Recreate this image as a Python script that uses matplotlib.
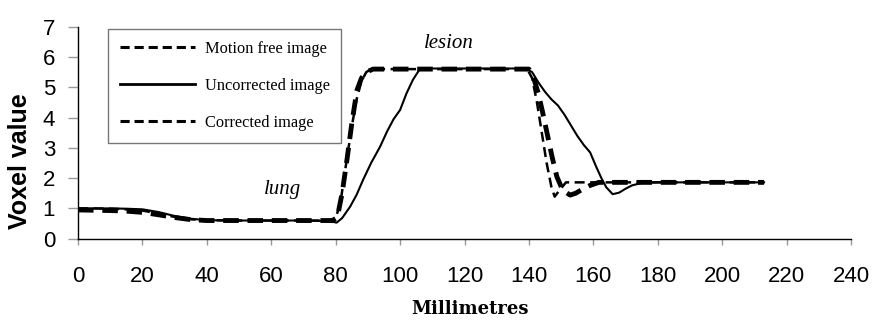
import matplotlib
matplotlib.use("Agg")
import matplotlib.pyplot as plt
from matplotlib.lines import Line2D

# Motion free image (thin dashed)
mf_x = [0, 5, 10, 15, 20, 25, 30, 35, 40, 50, 60, 70, 78, 80, 81.5, 83, 85, 86.5, 88, 89.5, 91, 100, 110, 120, 130, 139.5,
        141, 142.5, 144, 145.5, 147, 148, 149.5, 151.5, 154, 160, 170, 180, 190, 200, 213]
mf_y = [1.0, 1.0, 0.99, 0.97, 0.93, 0.83, 0.72, 0.64, 0.61, 0.6, 0.6, 0.6, 0.6, 0.68, 1.2, 2.3, 3.7, 4.6, 5.2, 5.5, 5.6, 5.6, 5.6, 5.6, 5.6, 5.6,
        5.3, 4.5, 3.5, 2.5, 1.7, 1.39, 1.6, 1.86, 1.86, 1.86, 1.86, 1.86, 1.86, 1.86, 1.86]

# Uncorrected image (solid)
un_x = [0, 10, 15, 20, 25, 30, 35, 40, 50, 60, 70, 78, 80.3, 82, 84.5, 86.5, 88.5, 91, 93.8, 96, 98, 100, 102, 104, 106, 108,
        120, 130, 139, 141, 143, 145, 147, 149, 151, 153, 155, 157, 159, 161, 162.5, 164, 166, 168, 170, 172, 175, 180, 190, 200, 213]
un_y = [1.0, 1.0, 0.99, 0.97, 0.88, 0.75, 0.66, 0.61, 0.6, 0.6, 0.6, 0.58, 0.53, 0.68, 1.06, 1.45, 1.94, 2.5, 3.04, 3.55, 3.95, 4.25, 4.8, 5.25, 5.58, 5.62,
        5.62, 5.62, 5.62, 5.5, 5.15, 4.85, 4.6, 4.4, 4.1, 3.75, 3.4, 3.1, 2.85, 2.35, 2.0, 1.7, 1.47, 1.52, 1.65, 1.76, 1.84, 1.86, 1.86, 1.86, 1.86]

# Corrected image (thick dashed)
co_x = [0, 10, 15, 20, 25, 30, 35, 40, 50, 60, 70, 79, 80.5, 82, 83.5, 85, 86.6, 88, 89.5, 91.6, 100, 110, 120, 130, 140,
        141.5, 142.9, 144.2, 145.6, 147.2, 148.7, 150.5, 152.8, 154.5, 156.6, 159, 161.7, 170, 180, 190, 200, 213]
co_y = [0.95, 0.93, 0.91, 0.87, 0.79, 0.7, 0.63, 0.6, 0.6, 0.6, 0.6, 0.6, 0.7, 1.5, 2.6, 3.8, 4.9, 5.3, 5.5, 5.6, 5.6, 5.6, 5.6, 5.6, 5.6,
        5.3, 4.8, 4.2, 3.5, 2.7, 2.04, 1.6, 1.44, 1.5, 1.63, 1.76, 1.86, 1.86, 1.86, 1.86, 1.86, 1.86]

series_labels = ["Motion free image", "Uncorrected image", "Corrected image"]
x_ticks = [0, 20, 40, 60, 80, 100, 120, 140, 160, 180, 200, 220, 240]
y_ticks = [0, 1, 2, 3, 4, 5, 6, 7]

fig = plt.figure(figsize=(8.73, 3.2), dpi=100)
ax = fig.add_axes([78 / 873, 81.3 / 320, 773 / 873, 212 / 320])

ax.plot(mf_x, mf_y, color="black", lw=1.8, linestyle=(0, (4, 2.2)))
ax.plot(un_x, un_y, color="black", lw=1.5, linestyle="-")
ax.plot(co_x, co_y, color="black", lw=3.5, linestyle=(0, (3.2, 1.8)))

ax.set_xlim(0, 240)
ax.set_ylim(0, 7)
ax.set_xticks(x_ticks)
ax.set_yticks(y_ticks)
for s in ["top", "right"]:
    ax.spines[s].set_visible(False)
for s in ["left", "bottom"]:
    ax.spines[s].set_color("black")
    ax.spines[s].set_linewidth(1.0)
ax.tick_params(axis="both", direction="out", width=1, color="#999999", labelsize=16)
ax.tick_params(axis="x", length=4.3, pad=15.5)
ax.tick_params(axis="y", length=7, pad=9.4)
for lbl in ax.get_xticklabels() + ax.get_yticklabels():
    lbl.set_fontfamily("Liberation Sans")

fig.text(20 / 873, 1 - 161 / 320, "Voxel value", rotation=90, ha="center", va="center",
         fontsize=18, fontweight="bold", family="Liberation Sans")
fig.text(470 / 873, 1 - 309 / 320, "Millimetres", ha="center", va="center",
         fontsize=13, fontweight="bold", family="DejaVu Serif")

ax.text(63.5, 1.62, "lung", fontsize=15, style="italic", family="Liberation Serif",
        ha="center", va="center")
ax.text(115, 6.45, "lesion", fontsize=15, style="italic", family="Liberation Serif",
        ha="center", va="center")

handles = [
    Line2D([], [], color="black", lw=2.2, linestyle=(0, (3, 1.6))),
    Line2D([], [], color="black", lw=2.0, linestyle="-"),
    Line2D([], [], color="black", lw=2.2, linestyle=(0, (3, 1.6))),
]
leg = ax.legend(handles, series_labels, loc="upper left", bbox_to_anchor=(0.039, 0.989),
                borderaxespad=0, frameon=True, fancybox=False, handlelength=4.6,
                handletextpad=0.6, labelspacing=1.3, borderpad=0.7,
                prop={"family": "Liberation Serif", "size": 11.8})
leg.get_frame().set_edgecolor("#555555")
leg.get_frame().set_linewidth(1.0)

fig.savefig("out.png", dpi=100)
